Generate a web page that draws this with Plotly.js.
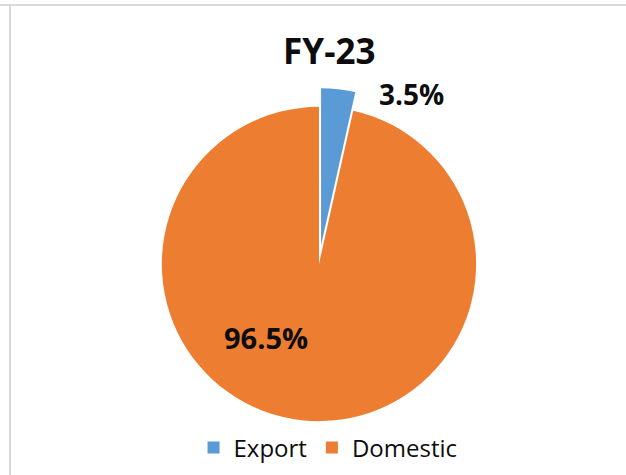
<!DOCTYPE html>
<html>
<head>
<meta charset="utf-8">
<script src="https://cdn.plot.ly/plotly-3.0.1.min.js"></script>
<style>
  html, body { margin: 0; padding: 0; background: #fff; }
  #wrap { position: relative; width: 626px; height: 475px; overflow: hidden; }
  #chart { position: absolute; left: 0; top: 0; width: 626px; height: 475px; }
  #topline { position: absolute; left: 0; top: 4px; width: 626px; height: 2px; background: #d9d9d9; z-index: 2; }
  #leftline { position: absolute; left: 9px; top: 4px; width: 2px; height: 471px; background: #d9d9d9; z-index: 2; }
</style>
</head>
<body>
<div id="wrap">
  <div id="chart"></div>
  <div id="topline"></div>
  <div id="leftline"></div>
</div>
<script>
const chartTitle = "FY-23";
const categories = ["Export", "Domestic"];
const values = [3.5, 96.5];
const colors = ["#5B9BD5", "#ED7D31"];

const total = values.reduce((a, b) => a + b, 0);
const pctText = values.map(v => (v / total * 100).toFixed(1) + "%");

const font = "'Open Sans', 'Noto Sans', sans-serif";

const trace = {
  type: "pie",
  labels: categories,
  values: values,
  sort: false,
  direction: "clockwise",
  rotation: 0,
  pull: [0.12, 0],
  marker: { colors: colors, line: { color: "#ffffff", width: 0 } },
  textinfo: "none",
  hoverinfo: "label+percent",
  domain: { x: [0.2284, 0.7907], y: [0.0737, 0.8147] }
};

const layout = {
  width: 626,
  height: 475,
  margin: { l: 0, r: 0, t: 0, b: 0 },
  paper_bgcolor: "#ffffff",
  title: {
    text: "<b>" + chartTitle + "</b>",
    font: { family: font, size: 35, color: "#0d0d0d" },
    x: 0.526, xanchor: "center",
    y: 0.892, yanchor: "middle",
    xref: "paper", yref: "paper"
  },
  showlegend: true,
  legend: {
    orientation: "h",
    x: 0.524, xanchor: "center",
    y: 0.057, yanchor: "middle",
    font: { family: font, size: 24, color: "#0d0d0d" },
    traceorder: "normal"
  },
  annotations: [
    { text: "<b>" + pctText[0] + "</b>", x: 0.658, y: 0.802, xref: "paper", yref: "paper",
      showarrow: false, xanchor: "center", yanchor: "middle",
      font: { family: font, size: 28, color: "#0d0d0d" } },
    { text: "<b>" + pctText[1] + "</b>", x: 0.425, y: 0.289, xref: "paper", yref: "paper",
      showarrow: false, xanchor: "center", yanchor: "middle",
      font: { family: font, size: 29, color: "#0d0d0d" } }
  ]
};

Plotly.newPlot("chart", [trace], layout, { displayModeBar: false, staticPlot: true });
</script>
</body>
</html>
